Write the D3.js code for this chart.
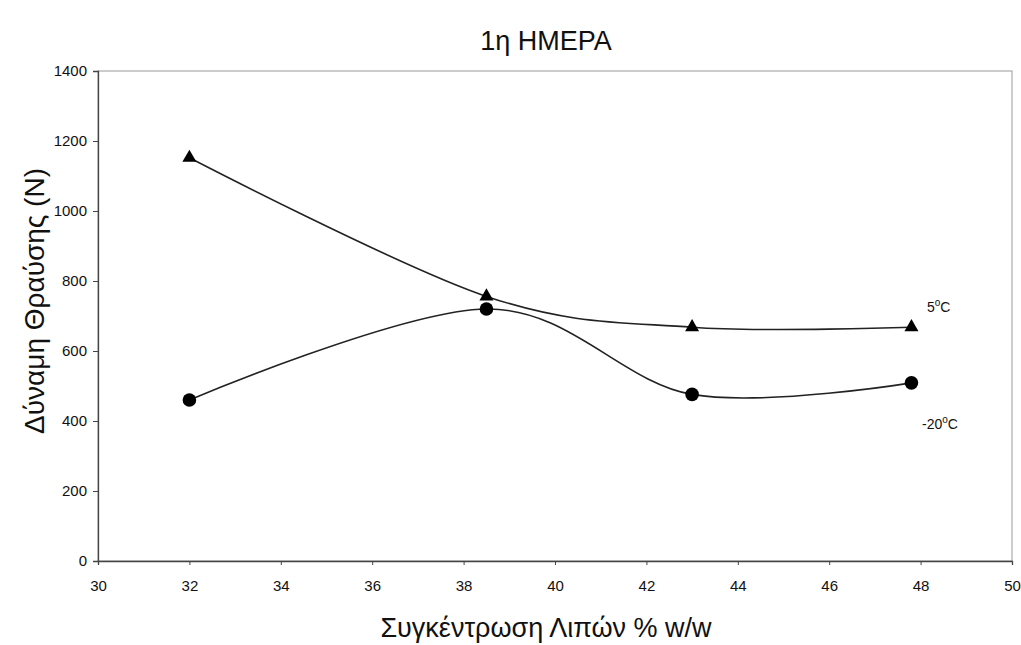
<!DOCTYPE html>
<html>
<head>
<meta charset="utf-8">
<script src="https://cdn.jsdelivr.net/npm/d3@7"></script>
<style>
  body { margin: 0; background: #fff; }
  text { font-family: "Liberation Sans", Arial, sans-serif; fill: #111; }
</style>
</head>
<body>
<svg id="chart" width="1021" height="645"></svg>
<script>
// fat concentration (% w/w)
var fat = [32, 38.5, 43, 47.8];
// breaking force (N) per storage temperature
var force5 = [1152, 756, 668, 668];
var forceMinus20 = [460, 720, 476, 509];
var xTicks = [30, 32, 34, 36, 38, 40, 42, 44, 46, 48, 50];
var yTicks = [0, 200, 400, 600, 800, 1000, 1200, 1400];

var svg = d3.select('#chart');
var plotLeft = 98, plotRight = 1012, plotTop = 71, plotBottom = 561;

var x = d3.scaleLinear().domain([30, 50]).range([plotLeft, plotRight]);
var y = d3.scaleLinear().domain([0, 1400]).range([plotBottom, plotTop]);

// plot frame (light)
svg.append('rect')
  .attr('x', plotLeft).attr('y', plotTop)
  .attr('width', plotRight - plotLeft).attr('height', plotBottom - plotTop)
  .attr('fill', 'none').attr('stroke', '#999').attr('stroke-width', 1);

var xAxis = svg.append('g')
  .attr('transform', 'translate(0,' + plotBottom + ')')
  .call(d3.axisBottom(x).tickValues(xTicks).tickFormat(d3.format('d')).tickSize(4).tickPadding(15));
var yAxis = svg.append('g')
  .attr('transform', 'translate(' + plotLeft + ',0)')
  .call(d3.axisLeft(y).tickValues(yTicks).tickFormat(d3.format('d')).tickSize(5).tickPadding(6));

[xAxis, yAxis].forEach(function (g) {
  g.select('.domain').attr('stroke', '#444').attr('stroke-width', 1.3);
  g.selectAll('.tick line').attr('stroke', '#444');
  g.selectAll('.tick text')
    .style('font-family', '"Liberation Sans", Arial, sans-serif')
    .style('font-size', '15px').attr('fill', '#222');
});

var line = d3.line()
  .x(function (d) { return x(d[0]); })
  .y(function (d) { return y(d[1]); })
  .curve(d3.curveCardinal.tension(0));

var s5 = fat.map(function (f, i) { return [f, force5[i]]; });
var s20 = fat.map(function (f, i) { return [f, forceMinus20[i]]; });

svg.append('path').datum(s5).attr('d', line)
  .attr('fill', 'none').attr('stroke', '#222').attr('stroke-width', 1.6);
svg.append('path').datum(s20).attr('d', line)
  .attr('fill', 'none').attr('stroke', '#222').attr('stroke-width', 1.6);

svg.selectAll('path.tri').data(s5).join('path')
  .attr('class', 'tri')
  .attr('transform', function (d) { return 'translate(' + x(d[0]) + ',' + y(d[1]) + ')'; })
  .attr('d', d3.symbol().type(d3.symbolTriangle).size(85))
  .attr('fill', '#000');

svg.selectAll('circle.dot').data(s20).join('circle')
  .attr('class', 'dot')
  .attr('cx', function (d) { return x(d[0]); })
  .attr('cy', function (d) { return y(d[1]); })
  .attr('r', 6.8)
  .attr('fill', '#000');

// series labels
function tempLabel(px, py, num) {
  var t = svg.append('text').attr('x', px).attr('y', py).style('font-size', '14px');
  t.append('tspan').text(num);
  t.append('tspan').attr('dy', -6).style('font-size', '10px').text('o');
  t.append('tspan').attr('dy', 6).text('C');
}
tempLabel(927, 312, '5');
tempLabel(922, 429, '-20');

// title and axis titles
svg.append('text')
  .attr('x', 546).attr('y', 50)
  .attr('text-anchor', 'middle')
  .style('font-size', '27px')
  .text('1η ΗΜΕΡΑ');

svg.append('text')
  .attr('x', 546).attr('y', 637)
  .attr('text-anchor', 'middle')
  .style('font-size', '27px')
  .text('Συγκέντρωση Λιπών % w/w');

svg.append('text')
  .attr('transform', 'translate(44,301) rotate(-90)')
  .attr('text-anchor', 'middle')
  .style('font-size', '28px')
  .text('Δύναμη Θραύσης (Ν)');
</script>
</body>
</html>
